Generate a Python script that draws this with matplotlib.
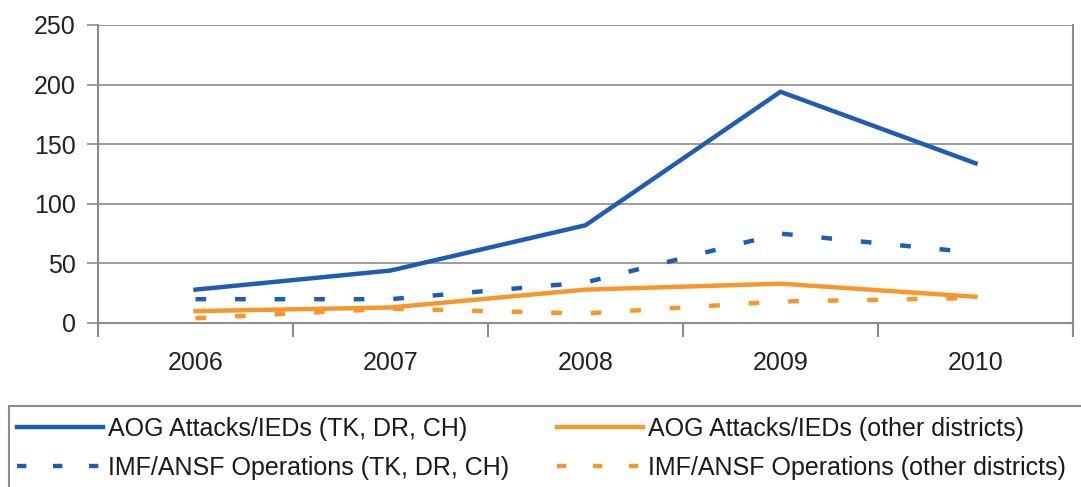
"""
AOG attacks and IMF/ANSF operations, 2006-2010.
Line chart recreated from an Excel-style figure.
"""

import matplotlib
matplotlib.use("Agg")
import matplotlib.pyplot as plt
from matplotlib.patches import Rectangle
from matplotlib.lines import Line2D

years = ["2006", "2007", "2008", "2009", "2010"]
aog_tk = [28, 44, 82, 194, 134]
imf_tk = [20, 20, 34, 75, 59]
aog_other = [10, 13, 28, 33, 22]
imf_other = [4, 12, 8, 18, 21]

labels = [
    "AOG Attacks/IEDs (TK, DR, CH)",
    "IMF/ANSF Operations (TK, DR, CH)",
    "AOG Attacks/IEDs (other districts)",
    "IMF/ANSF Operations (other districts)",
]

BLUE = "#1f5cb4"
ORANGE = "#f7962a"
GRID = "#8c8c8c"
DASH = (0, (2.4, 6.5))
LEG_DASH = (0, (2.1, 6.0))


def main():
    plt.rcParams["font.family"] = ["Liberation Sans", "DejaVu Sans"]

    fig = plt.figure(figsize=(10.81, 4.87), dpi=100)
    ax = fig.add_axes([98 / 1081, 1 - 323 / 487, 975 / 1081, 298 / 487])

    x = list(range(len(years)))
    ax.plot(x, aog_tk, color=BLUE, lw=3.2)
    ax.plot(x, imf_tk, color=BLUE, lw=3.2, ls=DASH)
    ax.plot(x, aog_other, color=ORANGE, lw=3.2)
    ax.plot(x, imf_other, color=ORANGE, lw=3.2, ls=DASH)

    ax.set_xlim(-0.5, len(years) - 0.5)
    ax.set_ylim(0, 250)
    ax.set_yticks(range(0, 251, 50))
    ax.set_xticks(x)
    ax.set_xticklabels(years)
    ax.set_xticks([i - 0.5 for i in range(len(years) + 1)], minor=True)

    ax.grid(axis="y", color=GRID, lw=1.2)
    ax.set_axisbelow(True)
    for side in ["left", "bottom", "right"]:
        ax.spines[side].set_color(GRID)
        ax.spines[side].set_linewidth(1.5)
    ax.spines["top"].set_visible(False)

    ax.tick_params(axis="y", length=8, width=1.2, color=GRID,
                   labelsize=18, labelcolor="#222222", pad=8)
    ax.tick_params(axis="x", which="major", length=0,
                   labelsize=18, labelcolor="#222222", pad=20)
    ax.tick_params(axis="x", which="minor", length=10, width=1.5, color=GRID)

    # legend frame runs off the right and bottom edges, as in the source
    fig.patches.append(Rectangle((9 / 1081, -0.1), 1.2, 1.1 - 406 / 487,
                                 transform=fig.transFigure, fill=False,
                                 edgecolor="#8c8c8c", lw=1.5))

    cols = [
        ([Line2D([], [], color=BLUE, lw=3.2),
          Line2D([], [], color=BLUE, lw=3.2, ls=LEG_DASH)],
         labels[:2], 17 / 1081),
        ([Line2D([], [], color=ORANGE, lw=3.2),
          Line2D([], [], color=ORANGE, lw=3.2, ls=LEG_DASH)],
         labels[2:], 557 / 1081),
    ]
    for handles, labs, left in cols:
        fig.legend(handles, labs, loc="upper left",
                   bbox_to_anchor=(left, 1 - 417 / 487),
                   frameon=False, fontsize=18, handlelength=3.44,
                   handletextpad=0.2, borderpad=0, borderaxespad=0,
                   labelspacing=0.6, labelcolor="#1a1a1a")

    fig.savefig("out.png", dpi=100)


if __name__ == "__main__":
    main()
